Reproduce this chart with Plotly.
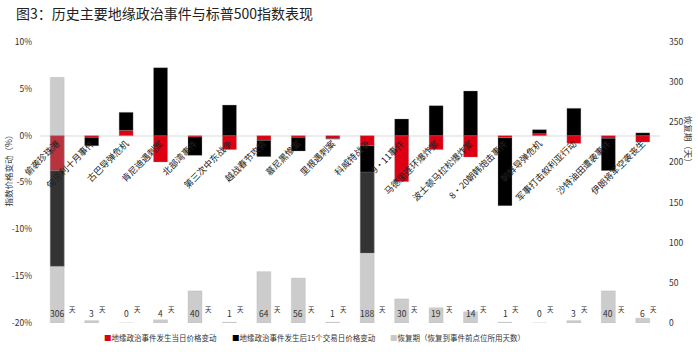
import plotly.graph_objects as go

events = ["偷袭珍珠港", "匈牙利十月事件", "古巴导弹危机", "肯尼迪遇刺案", "北部湾事件",
          "第三次中东战争", "越战春节攻势", "慕尼黑惨案", "里根遇刺案", "科威特战争",
          "9·11事件", "马德里连环爆炸案", "波士顿马拉松爆炸案", "8·20朝韩炮击事件",
          "朝鲜导弹危机", "军事打击叙利亚行动", "沙特油田遭袭事件", "伊朗将军空袭丧生"]

# 当日价格变动 (%)
day_change = [-3.74, -0.18, 0.57, -2.81, -0.14, -1.49, -0.50, -0.18, -0.32, -1.07,
              -4.91, -1.49, -2.28, -0.21, 0.21, -0.82, -0.28, -0.68]
# 其后15个交易日价格变动 (%)（叠加部分）
after15_change = [-10.20, -0.90, 1.92, 7.26, -1.96, 3.27, -1.74, -1.46, -0.05, -11.46,
                  1.78, 3.20, 4.77, -7.26, 0.43, 2.92, -3.45, 0.30]
# 恢复期 (天)
recovery_days = [306, 3, 0, 4, 40, 1, 64, 56, 1, 188, 30, 19, 14, 1, 0, 3, 40, 6]

left_ticks = [10, 5, 0, -5, -10, -15, -20]
left_ticktext = ["10%", "5%", "0%", "-5%", "-10%", "-15%", "-20%"]
right_ticks = [0, 50, 100, 150, 200, 250, 300, 350]

FONT = "Noto Sans CJK SC"
RED = "#DE0012"
edge = dict(color="rgba(150,150,150,0.6)", width=0.5)

fig = go.Figure()
fig.add_trace(go.Bar(x=events, y=day_change, name="地缘政治事件发生当日价格变动",
                     marker=dict(color=RED, line=edge), yaxis="y"))
fig.add_trace(go.Bar(x=events, y=after15_change, name="地缘政治事件发生后15个交易日价格变动",
                     marker=dict(color="#000000", line=edge), yaxis="y"))
fig.add_trace(go.Bar(x=events, y=recovery_days, name="恢复期（恢复到事件前点位所用天数）",
                     marker=dict(color="rgba(128,128,128,0.4)", line=dict(color="rgba(170,170,170,0.5)", width=0.5)),
                     yaxis="y2"))

annotations = []
for ev, d in zip(events, recovery_days):
    s = str(d)
    annotations.append(dict(x=ev, y=0, xref="x", yref="y2", text=s, showarrow=False,
                            xanchor="center", yanchor="bottom", yshift=2,
                            font=dict(family=FONT, size=8.5, color="#333333")))
    annotations.append(dict(x=ev, y=0, xref="x", yref="y2", text="天", showarrow=False,
                            xanchor="left", yanchor="bottom", yshift=7, xshift=len(s) * 2.4 + 3,
                            font=dict(family=FONT, size=6.5, color="#333333")))

legend_items = [("地缘政治事件发生当日价格变动", RED, 0.1000),
                ("地缘政治事件发生后15个交易日价格变动", "#000000", 0.307),
                ("恢复期（恢复到事件前点位所用天数）", "#c8c8c8", 0.562)]
for label, col, xp in legend_items:
    annotations.append(dict(x=xp, y=-0.05, xref="paper", yref="paper", showarrow=False,
                            xanchor="left", yanchor="middle",
                            text=f"<span style='color:{col}'>■</span>{label}",
                            font=dict(family=FONT, size=7.5, color="#333333")))

annotations.append(dict(x=-0.0645, y=0.55, xref="paper", yref="paper", showarrow=False,
                        text="指数价格变动（%）", textangle=-90,
                        font=dict(family=FONT, size=8.5, color="#333333")))
annotations.append(dict(x=1.06, y=0.648, xref="paper", yref="paper", showarrow=False,
                        text="恢复期（天）", textangle=90,
                        font=dict(family=FONT, size=8.5, color="#333333")))

fig.update_layout(
    width=698, height=352,
    margin=dict(l=40, r=38, t=42, b=29),
    paper_bgcolor="white", plot_bgcolor="white",
    barmode="relative", bargap=0.594,
    showlegend=False,
    title=dict(text="图3：历史主要地缘政治事件与标普500指数表现", x=16 / 698, xanchor="left",
               y=1 - 14 / 352, yanchor="middle", font=dict(family=FONT, size=14, color="#222222")),
    xaxis=dict(type="category", anchor="free", position=20 / 30, showline=False, ticks="",
               tickangle=-45, showgrid=False, zeroline=False,
               tickfont=dict(family=FONT, size=9, color="#222222")),
    yaxis=dict(range=[-20, 10], tickvals=left_ticks, ticktext=left_ticktext, showgrid=False,
               zeroline=True, zerolinecolor="#ececec", zerolinewidth=1.5, showline=False,
               ticks="", ticklabelstandoff=7,
               tickfont=dict(family=FONT, size=8.5, color="#333333")),
    yaxis2=dict(range=[0, 350], tickvals=right_ticks, overlaying="y", side="right", showgrid=False,
                zeroline=False, showline=False, ticks="", ticklabelstandoff=8,
                tickfont=dict(family=FONT, size=8.5, color="#333333")),
    annotations=annotations,
)

fig.write_html("out.html")
